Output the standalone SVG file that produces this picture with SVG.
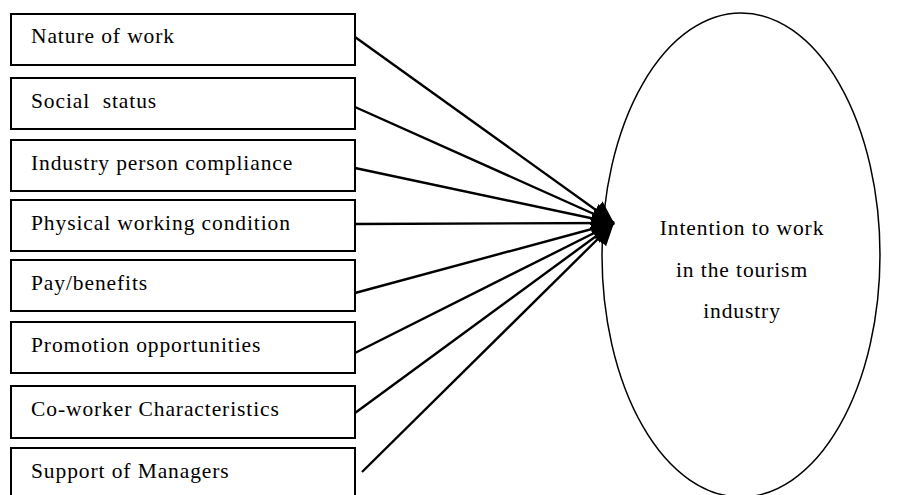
<svg xmlns="http://www.w3.org/2000/svg" width="899" height="495" viewBox="0 0 899 495">
<style>
.box{fill:#fff;stroke:#000;stroke-width:2}
.lbl{font-family:"Liberation Serif","Times New Roman",serif;font-size:21.5px;letter-spacing:0.9px;fill:#000}
.ctr{text-anchor:middle}
.con{stroke:#000;stroke-width:2.4;fill:none;marker-end:url(#ah)}
</style>
<defs>
<marker id="ah" markerUnits="userSpaceOnUse" markerWidth="24" markerHeight="22" refX="22" refY="11" orient="auto">
<path d="M0,0 L22,11 L0,22 Z" fill="#000"/>
</marker>
</defs>
<rect width="899" height="495" fill="#fff"/>
<g id="n1"><rect class="box" x="11" y="14" width="344" height="51"/><text class="lbl" x="31" y="43">Nature of work</text></g>
<g id="n2"><rect class="box" x="11" y="78" width="344" height="51"/><text class="lbl" x="31" y="108" xml:space="preserve">Social  status</text></g>
<g id="n3"><rect class="box" x="11" y="140" width="344" height="51"/><text class="lbl" x="31" y="170">Industry person compliance</text></g>
<g id="n4"><rect class="box" x="11" y="200" width="344" height="51"/><text class="lbl" x="31" y="230">Physical working condition</text></g>
<g id="n5"><rect class="box" x="11" y="260" width="344" height="51"/><text class="lbl" x="31" y="290">Pay/benefits</text></g>
<g id="n6"><rect class="box" x="11" y="322" width="344" height="51"/><text class="lbl" x="31" y="352">Promotion opportunities</text></g>
<g id="n7"><rect class="box" x="11" y="386" width="344" height="52"/><text class="lbl" x="31" y="416">Co-worker Characteristics</text></g>
<g id="n8"><rect class="box" x="11" y="448" width="344" height="52"/><text class="lbl" x="31" y="478">Support of Managers</text></g>
<g id="target">
<ellipse cx="741" cy="255" rx="139" ry="242" fill="#fff" stroke="#000" stroke-width="1.5"/>
<text class="lbl ctr" x="742" y="235">Intention to work</text>
<text class="lbl ctr" x="742" y="277">in the tourism</text>
<text class="lbl ctr" x="742" y="318">industry</text>
</g>
<g id="connectors">
<line class="con" x1="355" y1="37" x2="614" y2="223"/>
<line class="con" x1="355" y1="107" x2="614" y2="223"/>
<line class="con" x1="355" y1="168" x2="614" y2="223"/>
<line class="con" x1="355" y1="224" x2="614" y2="223"/>
<line class="con" x1="355" y1="293" x2="614" y2="223"/>
<line class="con" x1="355" y1="353" x2="614" y2="223"/>
<line class="con" x1="355" y1="413" x2="614" y2="223"/>
<line class="con" x1="362" y1="472" x2="614" y2="223"/>
</g>
</svg>
